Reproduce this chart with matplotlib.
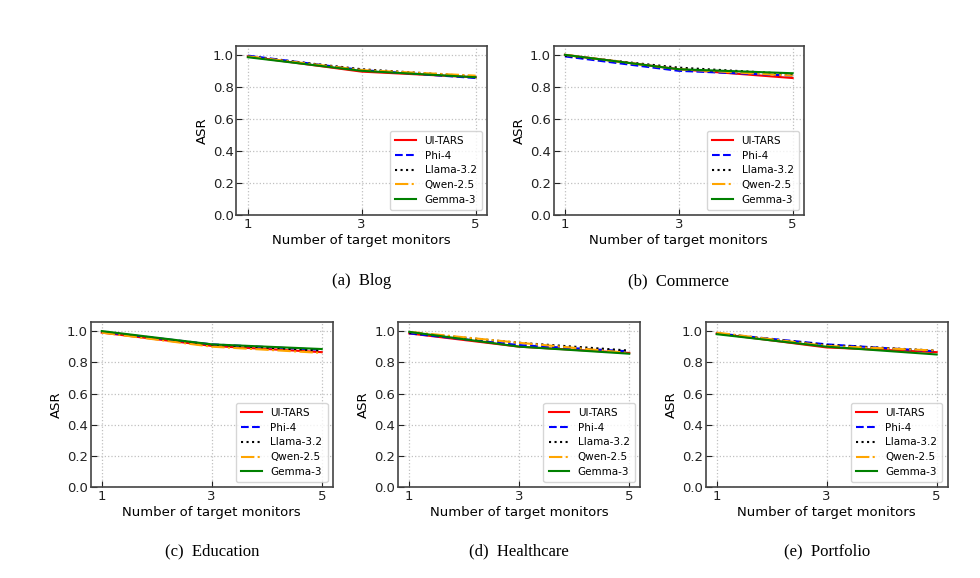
import matplotlib
matplotlib.use("Agg")
import matplotlib.pyplot as plt

monitors = [1, 3, 5]
models = ["UI-TARS", "Phi-4", "Llama-3.2", "Qwen-2.5", "Gemma-3"]
colors = ["red", "blue", "black", "orange", "green"]
styles = ["-", "--", ":", "-.", "-"]

blog = {
    "UI-TARS": [0.990, 0.895, 0.860],
    "Phi-4": [0.995, 0.905, 0.855],
    "Llama-3.2": [0.990, 0.910, 0.865],
    "Qwen-2.5": [0.990, 0.905, 0.870],
    "Gemma-3": [0.985, 0.900, 0.860],
}
commerce = {
    "UI-TARS": [1.000, 0.910, 0.855],
    "Phi-4": [0.990, 0.900, 0.870],
    "Llama-3.2": [0.995, 0.920, 0.880],
    "Qwen-2.5": [1.000, 0.910, 0.870],
    "Gemma-3": [1.000, 0.910, 0.885],
}
education = {
    "UI-TARS": [0.990, 0.905, 0.865],
    "Phi-4": [0.995, 0.915, 0.880],
    "Llama-3.2": [0.995, 0.910, 0.875],
    "Qwen-2.5": [0.990, 0.900, 0.860],
    "Gemma-3": [1.000, 0.915, 0.885],
}
healthcare = {
    "UI-TARS": [0.985, 0.900, 0.860],
    "Phi-4": [0.985, 0.910, 0.870],
    "Llama-3.2": [0.990, 0.925, 0.875],
    "Qwen-2.5": [0.995, 0.925, 0.860],
    "Gemma-3": [0.995, 0.900, 0.855],
}
portfolio = {
    "UI-TARS": [0.985, 0.895, 0.865],
    "Phi-4": [0.985, 0.915, 0.870],
    "Llama-3.2": [0.985, 0.910, 0.875],
    "Qwen-2.5": [0.990, 0.905, 0.875],
    "Gemma-3": [0.980, 0.900, 0.850],
}

panels = [
    ("(a)  Blog", blog, [0.2413, 0.628, 0.2556, 0.2924]),
    ("(b)  Commerce", commerce, [0.5648, 0.628, 0.2556, 0.2924]),
    ("(c)  Education", education, [0.0926, 0.157, 0.2469, 0.2851]),
    ("(d)  Healthcare", healthcare, [0.4064, 0.157, 0.2469, 0.2851]),
    ("(e)  Portfolio", portfolio, [0.7201, 0.157, 0.2469, 0.2851]),
]

fig = plt.figure(figsize=(9.8, 5.78), dpi=100)

for caption, data, rect in panels:
    ax = fig.add_axes(rect)
    for name, c, ls in zip(models, colors, styles):
        ax.plot(monitors, data[name], color=c, linestyle=ls, linewidth=1.5, label=name)
    ax.set_ylim(0, 1.055)
    ax.set_xticks(monitors)
    ax.set_yticks([0.0, 0.2, 0.4, 0.6, 0.8, 1.0])
    ax.tick_params(direction="in", labelsize=9.5, length=4, pad=2, colors="#222222")
    ax.grid(True, linestyle=":", color="#c0c0c0", linewidth=0.9)
    for s in ax.spines.values():
        s.set_color("#444444")
        s.set_linewidth(1.2)
    ax.set_xlabel("Number of target monitors", fontsize=9.5, labelpad=2)
    ax.set_ylabel("ASR", fontsize=9.5, labelpad=3)
    ax.legend(loc="lower right", fontsize=7.5, handlelength=2.0, labelspacing=0.45,
              borderpad=0.5)
    # caption under each panel
    ax.text(0.5, -0.39, caption, transform=ax.transAxes, ha="center", va="center",
            fontsize=12, family="Liberation Serif")

fig.savefig("out.png", dpi=100)
